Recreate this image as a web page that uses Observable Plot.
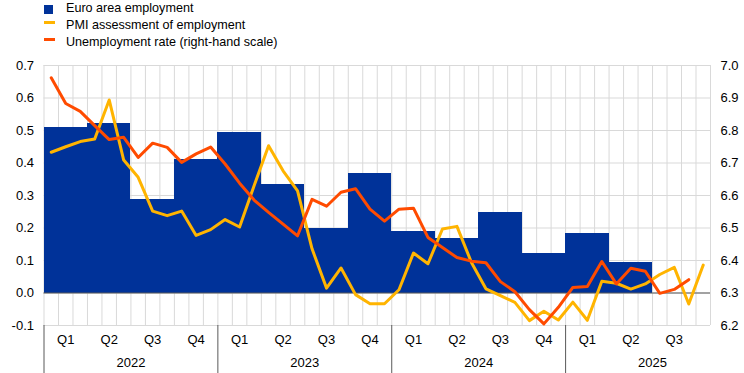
<!DOCTYPE html>
<html>
<head>
<meta charset="utf-8">
<script src="https://cdn.jsdelivr.net/npm/d3@7"></script>
<script src="https://cdn.jsdelivr.net/npm/@observablehq/plot@0.6"></script>
<style>
  html, body { margin: 0; padding: 0; background: #fff; }
  body { width: 744px; height: 373px; overflow: hidden; font-family: "Liberation Sans", Arial, sans-serif; color: #000; }
  #legend { position: relative; height: 52px; font-size: 12.6px; }
  .item { position: absolute; left: 66px; line-height: 17px; white-space: nowrap; }
  .sw { position: absolute; left: 44px; }
</style>
</head>
<body>
<div id="legend">
  <div class="sw" style="top:5px;width:9px;height:9px;background:#003299"></div>
  <div class="item" style="top:0px">Euro area employment</div>
  <div class="sw" style="top:21px;width:11px;height:3px;background:#ffb400"></div>
  <div class="item" style="top:17px">PMI assessment of employment</div>
  <div class="sw" style="top:38px;width:11px;height:3px;background:#ff4b00"></div>
  <div class="item" style="top:34px">Unemployment rate (right-hand scale)</div>
</div>
<div id="chart"></div>
<script>
// Quarterly euro area employment growth (left scale, %)
const quarters = ["2022 Q1","2022 Q2","2022 Q3","2022 Q4","2023 Q1","2023 Q2","2023 Q3","2023 Q4",
                  "2024 Q1","2024 Q2","2024 Q3","2024 Q4","2025 Q1","2025 Q2"];
const employment = [0.51, 0.522, 0.287, 0.411, 0.495, 0.334, 0.20, 0.367,
                    0.189, 0.167, 0.247, 0.122, 0.183, 0.093];

// Monthly series
const months = [];
for (let y = 2022; y <= 2025; y++) for (let m = 1; m <= 12; m++) months.push(`${y}-${String(m).padStart(2,"0")}`);
months.splice(46); // Jan 2022 .. Oct 2025

const pmi = [0.433, 0.45, 0.466, 0.474, 0.594, 0.409, 0.356, 0.252, 0.238, 0.252, 0.177, 0.195,
             0.226, 0.203, 0.33, 0.453, 0.376, 0.314, 0.136, 0.015, 0.077, -0.005, -0.033, -0.033,
             0.010, 0.123, 0.090, 0.197, 0.205, 0.094, 0.013, -0.008, -0.029, -0.085, -0.056, -0.083,
             -0.028, -0.084, 0.036, 0.030, 0.012, 0.028, 0.057, 0.079, -0.034, 0.086];

const unemployment = [6.962, 6.883, 6.859, 6.815, 6.772, 6.779, 6.717, 6.761, 6.748, 6.702, 6.728, 6.749,
                      6.697, 6.638, 6.586, 6.548, 6.512, 6.476, 6.588, 6.567, 6.61, 6.621, 6.558, 6.521,
                      6.558, 6.561, 6.471, 6.440, 6.409, 6.398, 6.393, 6.335, 6.304, 6.249, 6.205, 6.256,
                      6.317, 6.320, 6.397, 6.328, 6.376, 6.367, 6.299, 6.311, 6.341];

// Axis labels
const years = ["2022", "2023", "2024", "2025"];
const axisQuarters = ["2022 Q1","2022 Q2","2022 Q3","2022 Q4","2023 Q1","2023 Q2","2023 Q3","2023 Q4",
                      "2024 Q1","2024 Q2","2024 Q3","2024 Q4","2025 Q1","2025 Q2","2025 Q3"];
const leftTicks = [-0.1, 0.0, 0.1, 0.2, 0.3, 0.4, 0.5, 0.6, 0.7];
const rightOffset = 6.3; // right-hand scale = left value + 6.3

// helpers
const monthIndex = s => (+s.slice(0,4) - 2022) * 12 + (+s.slice(5,7) - 1);
const quarterStart = s => (+s.slice(0,4) - 2022) * 12 + (+s.slice(6) - 1) * 3;

const barData = quarters.map((q, i) => ({start: quarterStart(q), value: employment[i]}));
const pmiData = pmi.map((v, i) => ({i: monthIndex(months[i]), v}));
const urData = unemployment.map((v, i) => ({i: monthIndex(months[i]), v}));
const monthEdges = d3.range(0, months.length + 1);
const qCenters = axisQuarters.map(q => quarterStart(q) + 1.5);
const qLabel = new Map(axisQuarters.map(q => [quarterStart(q) + 1.5, q.slice(5)]));
const yearStarts = years.map(y => (+y - 2022) * 12);
const yearCenters = yearStarts.map(s => s + 6);
const yearLabel = new Map(years.map(y => [(+y - 2022) * 12 + 6, y]));

const font = "'Liberation Sans', Arial, sans-serif";

const chart = Plot.plot({
  width: 744,
  height: 321,
  marginTop: 13,
  marginBottom: 48,
  marginLeft: 43.5,
  marginRight: 34,
  style: {fontFamily: font, fontSize: "13px", color: "#000", background: "#fff", overflow: "visible"},
  x: {type: "linear", domain: [0, months.length], axis: null},
  y: {domain: [-0.1, 0.7], axis: null},
  marks: [
    Plot.gridY(leftTicks, {stroke: "#d9d9d9", strokeOpacity: 1}),
    Plot.gridX(monthEdges, {stroke: "#d9d9d9", strokeOpacity: 1}),
    Plot.rect(barData, {x1: d => d.start, x2: d => d.start + 3, y1: 0, y2: d => d.value,
                        fill: "#003299", shapeRendering: "crispEdges"}),
    Plot.ruleY([0], {stroke: "#595959", strokeWidth: 1}),
    Plot.line(pmiData, {x: d => d.i + 0.5, y: d => d.v, stroke: "#ffb400", strokeWidth: 3}),
    Plot.line(urData, {x: d => d.i + 0.5, y: d => d.v - rightOffset, stroke: "#ff4b00", strokeWidth: 3}),
    Plot.axisY({ticks: leftTicks, anchor: "left", tickSize: 0, tickPadding: 10,
                tickFormat: d => d.toFixed(1), fontSize: 13, label: null}),
    Plot.axisY({ticks: leftTicks, anchor: "right", tickSize: 0, tickPadding: 10,
                tickFormat: d => (d + rightOffset).toFixed(1), fontSize: 13, label: null}),
    Plot.axisX({ticks: qCenters, tickSize: 0, tickPadding: 9,
                tickFormat: d => qLabel.get(d), fontSize: 13, label: null}),
    Plot.axisX({ticks: yearCenters, tickSize: 0, tickPadding: 32,
                tickFormat: d => yearLabel.get(d), fontSize: 13, label: null}),
    Plot.axisX({ticks: yearStarts, tickSize: 48, tickPadding: 0, stroke: "#595959",
                tickFormat: () => "", label: null})
  ]
});
document.getElementById("chart").appendChild(chart);
</script>
</body>
</html>
